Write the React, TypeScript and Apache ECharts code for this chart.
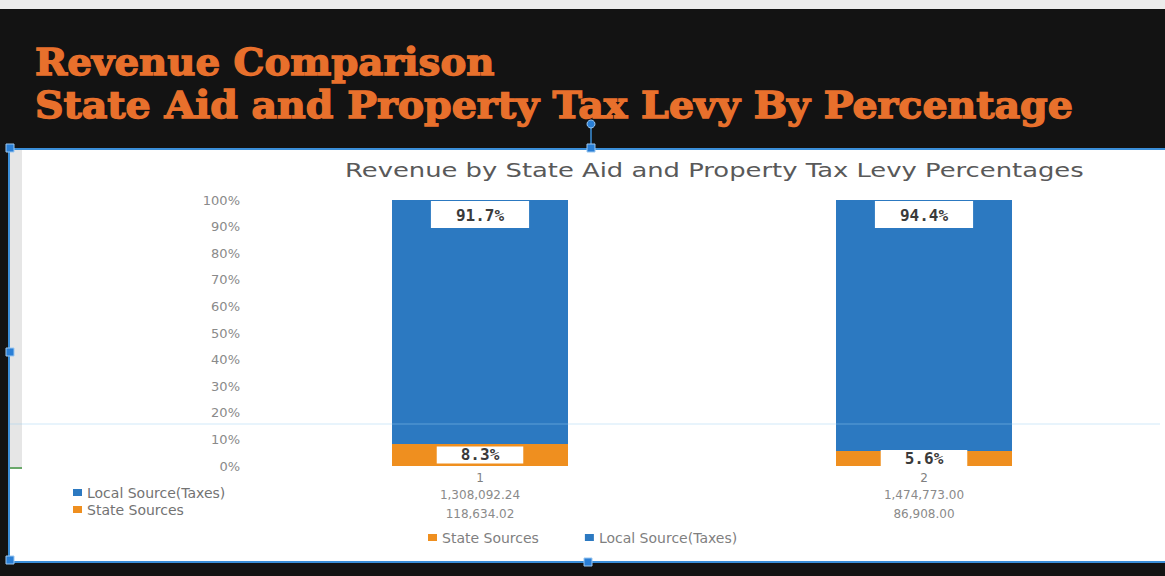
import React, { useEffect, useRef } from "react";
import * as echarts from "echarts";

const categories = ["1", "2"];
const seriesNames = ["State Sources", "Local Source(Taxes)"];
const statePct = [8.3, 5.6];
const localPct = [91.7, 94.4];
const localAmounts = ["1,308,092.24", "1,474,773.00"];
const stateAmounts = ["118,634.02", "86,908.00"];
const headingLines = ["Revenue Comparison", "State Aid and Property Tax Levy By Percentage"];
const chartTitle = "Revenue by State Aid and Property Tax Levy Percentages";

const BLUE = "#2c79c1";
const ORANGE = "#ef8f1f";
const TITLE_ORANGE = "#e8702c";
const SANS = "DejaVu Sans";

export default function App() {
  const ref = useRef<HTMLDivElement>(null);
  useEffect(() => {
    if (!ref.current) return;
    const chart = echarts.init(ref.current, undefined, { renderer: "svg" });
    const handle = (x: number, y: number) => ({
      type: "rect",
      z: 20,
      shape: { x: x - 4, y: y - 4, width: 8, height: 8 },
      style: { fill: "#2a7fd6", stroke: "#9cc8f0", lineWidth: 1 },
    });
    const labelBase = {
      show: true,
      formatter: (p: any) => `${Number(p.value).toFixed(1)}%`,
      color: "#3a3a3a",
      fontFamily: "DejaVu Sans Mono",
      fontWeight: "bold",
      fontSize: 16,
      backgroundColor: "#ffffff",
    };
    chart.setOption({
      animation: false,
      backgroundColor: "#131313",
      graphic: [
        { type: "rect", z: -10, shape: { x: 0, y: 0, width: 1165, height: 9 }, style: { fill: "#ececec" } },
        { type: "rect", z: -10, shape: { x: 9, y: 149, width: 1156, height: 413 }, style: { fill: "#ffffff" } },
        { type: "rect", z: -9, shape: { x: 9, y: 150, width: 13, height: 318 }, style: { fill: "#e6e6e6" } },
        { type: "line", z: -9, shape: { x1: 9, y1: 468, x2: 22, y2: 468 }, style: { stroke: "#6aa86a", lineWidth: 2 } },
        { type: "line", z: 15, shape: { x1: 9, y1: 149, x2: 1165, y2: 149 }, style: { stroke: "#3b8fd9", lineWidth: 2 } },
        { type: "line", z: 15, shape: { x1: 9, y1: 149, x2: 9, y2: 562 }, style: { stroke: "#3b8fd9", lineWidth: 2 } },
        { type: "line", z: 15, shape: { x1: 9, y1: 562, x2: 1165, y2: 562 }, style: { stroke: "#3b8fd9", lineWidth: 2 } },
        { type: "line", z: 15, shape: { x1: 10, y1: 424, x2: 1160, y2: 424 }, style: { stroke: "rgba(150,205,240,0.45)", lineWidth: 1 } },
        { type: "line", z: 15, shape: { x1: 591, y1: 128, x2: 591, y2: 148 }, style: { stroke: "#3b8fd9", lineWidth: 1.5 } },
        { type: "circle", z: 20, shape: { cx: 591, cy: 124, r: 4 }, style: { fill: "#2a7fd6", stroke: "#9cc8f0", lineWidth: 1 } },
        handle(10, 148),
        handle(591, 148),
        handle(10, 352),
        handle(10, 560),
        handle(588, 562),
        {
          type: "text",
          x: 35,
          y: 43,
          scaleX: 1.02,
          style: {
            text: headingLines[0],
            fill: TITLE_ORANGE,
            stroke: TITLE_ORANGE,
            lineWidth: 1.4,
            font: "bold 38px 'DejaVu Serif'",
          },
        },
        {
          type: "text",
          x: 35,
          y: 86,
          scaleX: 1.04,
          style: {
            text: headingLines[1],
            fill: TITLE_ORANGE,
            stroke: TITLE_ORANGE,
            lineWidth: 1.4,
            font: "bold 38px 'DejaVu Serif'",
          },
        },
        {
          type: "text",
          x: 345,
          y: 161,
          scaleX: 1.36,
          style: {
            text: chartTitle,
            fill: "#595959",
            font: `19px '${SANS}'`,
          },
        },
      ],
      legend: [
        {
          data: [seriesNames[0], seriesNames[1]],
          left: 423,
          top: 525,
          icon: "rect",
          itemWidth: 9,
          itemHeight: 7,
          itemGap: 46,
          textStyle: { fontFamily: SANS, fontSize: 14, color: "#7f7f7f", lineHeight: 15 },
        },
        {
          data: [seriesNames[1], seriesNames[0]],
          orient: "vertical",
          left: 68,
          top: 480,
          icon: "rect",
          itemWidth: 9,
          itemHeight: 7,
          itemGap: 2,
          textStyle: { fontFamily: SANS, fontSize: 14, color: "#737373", lineHeight: 15 },
        },
      ],
      grid: { left: 258, right: 19, top: 200, bottom: 110 },
      xAxis: {
        type: "category",
        data: categories,
        axisLine: { show: false },
        axisTick: { show: false },
        axisLabel: {
          margin: 4,
          formatter: (v: string, i: number) =>
            `{c|${v}}\n{v|${localAmounts[i]}}\n{v|${stateAmounts[i]}}`,
          rich: {
            c: { fontFamily: SANS, fontSize: 12, color: "#7f7f7f", lineHeight: 15 },
            v: { fontFamily: SANS, fontSize: 12, color: "#8a8a8a", lineHeight: 19 },
          },
        },
      },
      yAxis: {
        type: "value",
        min: 0,
        max: 100,
        interval: 10,
        axisLine: { show: false },
        axisTick: { show: false },
        splitLine: { show: false },
        axisLabel: {
          formatter: "{value}%",
          margin: 18,
          fontFamily: SANS,
          fontSize: 13,
          color: "#8a8a8a",
        },
      },
      series: [
        {
          name: seriesNames[0],
          type: "bar",
          stack: "total",
          barWidth: 176,
          data: statePct,
          itemStyle: { color: ORANGE },
          label: { ...labelBase, position: "inside", padding: [1, 24, 0, 24] },
        },
        {
          name: seriesNames[1],
          type: "bar",
          stack: "total",
          barWidth: 176,
          data: localPct,
          itemStyle: { color: BLUE },
          label: { ...labelBase, position: "insideTop", distance: 1, padding: [6, 25, 5, 25] },
        },
      ],
    });
    return () => chart.dispose();
  }, []);
  return (
    <div
      ref={ref}
      style={{ position: "fixed", left: 0, top: 0, width: 1165, height: 576 }}
    />
  );
}
